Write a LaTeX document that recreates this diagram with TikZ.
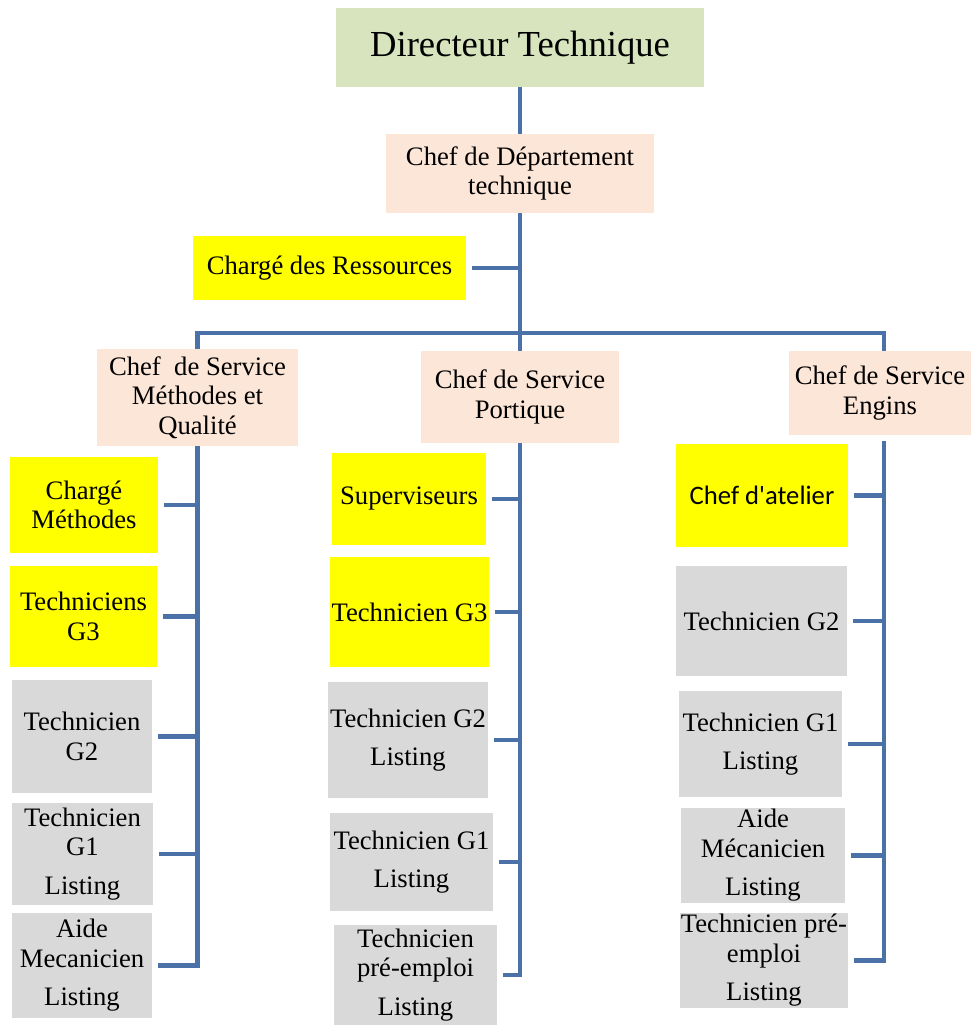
\documentclass[tikz,border=0pt]{standalone}
\usepackage{fontspec}
\setmainfont{Liberation Serif}
\newfontfamily\calibri{Carlito}
\usetikzlibrary{positioning}

\definecolor{trait}{RGB}{74,114,168}
\definecolor{vertpale}{RGB}{215,228,189}
\definecolor{peche}{RGB}{252,230,216}
\definecolor{jaunevif}{RGB}{255,255,0}
\definecolor{grisclair}{RGB}{217,217,217}

\newcommand{\pix}{0.75pt}

\tikzset{
  poste/.style={inner sep=0pt, align=center, font=\fontsize{20}{22}\selectfont},
  direction/.style={poste, fill=vertpale, font=\fontsize{27.5}{30}\selectfont},
  chef/.style={poste, fill=peche},
  jaune/.style={poste, fill=jaunevif},
  gris/.style={poste, fill=grisclair},
  dim/.style 2 args={minimum width=#1*\pix, minimum height=#2*\pix},
  lien/.style={draw=trait, line width=3.6pt},
}

\begin{document}
\begin{tikzpicture}[x=\pix, y=-\pix]
    \useasboundingbox (0,0) rectangle (971,1025);

    % haut de l'organigramme
    \node[direction, dim={368}{79}] (dir) at (520,47.5) {Directeur Technique};
    \node[chef, dim={268}{79}] (dep) at (520,173.5) {Chef de Département\\technique};
    \node[jaune, dim={273}{64}] (res) at (329.5,268) {Chargé des Ressources};

    % chefs de service
    \node[chef, dim={201}{97}] (smq) at (197.5,397.5) {Chef\ \ de Service\\Méthodes et\\Qualité};
    \node[chef, dim={198}{92}] (spo) at (520,397) {Chef de Service\\Portique};
    \node[chef, dim={182}{84}] (sen) at (880,393) {Chef de Service\\Engins};

    % colonne Méthodes et Qualité
    \node[jaune, dim={148}{96}] (cm) at (84,505) {Chargé\\Méthodes};
    \node[jaune, dim={147}{101}] (tg3) at (83.5,616.5) {Techniciens\\G3};
    \node[gris, dim={140}{113}] (tg2) at (82,736.5) {Technicien\\G2};
    \node[gris, dim={141}{102}] (tg1) at (82.5,854) {Technicien\\G1\\[7pt]Listing};
    \node[gris, dim={140}{105}] (am) at (82,965.5) {Aide\\Mecanicien\\[7pt]Listing};

    % colonne Portique
    \node[jaune, dim={154}{92}] (sup) at (409,499) {Superviseurs};
    \node[jaune, dim={159}{110}] (pg3) at (409.5,612) {Technicien G3};
    \node[gris, dim={160}{116}] (pg2) at (408,740) {Technicien G2\\[7pt]Listing};
    \node[gris, dim={163}{98}] (pg1) at (411.5,862) {Technicien G1\\[7pt]Listing};
    \node[gris, dim={163}{100}] (ppe) at (415.5,975) {Technicien\\pré-emploi\\[7pt]Listing};

    % colonne Engins
    \node[jaune, dim={172}{103}, font=\calibri\fontsize{20}{22}\selectfont] (ca) at (762,495.5) {Chef d'atelier};
    \node[gris, dim={171}{110}] (eg2) at (761.5,621) {Technicien G2};
    \node[gris, dim={163}{106}] (eg1) at (760.5,744) {Technicien G1\\[7pt]Listing};
    \node[gris, dim={164}{95}] (eam) at (763,855.5) {Aide\\Mécanicien\\[7pt]Listing};
    \node[gris, dim={168}{95}] (epe) at (764,960.5) {Technicien pré-\\emploi\\[7pt]Listing};

    \coordinate (barre) at (520,333);
    \coordinate (axeR) at (884,441);

    % liaisons
    \draw[lien] (dir.south) -- (dep.north);
    \draw[lien] (dep.south) -- (spo.north);
    \draw[lien] ([xshift=6*\pix]res.east) -- (res.east -| barre);
    \draw[lien] (smq.north) |- (barre) -| (sen.north -| axeR);

    \draw[lien] (smq.south) |- ([xshift=6*\pix]am.east);
    \foreach \b in {cm,tg3,tg2,tg1}
        \draw[lien] ([xshift=6*\pix]\b.east) -- (\b.east -| smq.south);

    \draw[lien] (spo.south) |- ([xshift=6*\pix]ppe.east);
    \foreach \b in {sup,pg3,pg2,pg1}
        \draw[lien] ([xshift=6*\pix]\b.east) -- (\b.east -| spo.south);

    \draw[lien] (axeR) |- ([xshift=6*\pix]epe.east);
    \foreach \b in {ca,eg2,eg1,eam}
        \draw[lien] ([xshift=6*\pix]\b.east) -- (\b.east -| axeR);
\end{tikzpicture}
\end{document}
